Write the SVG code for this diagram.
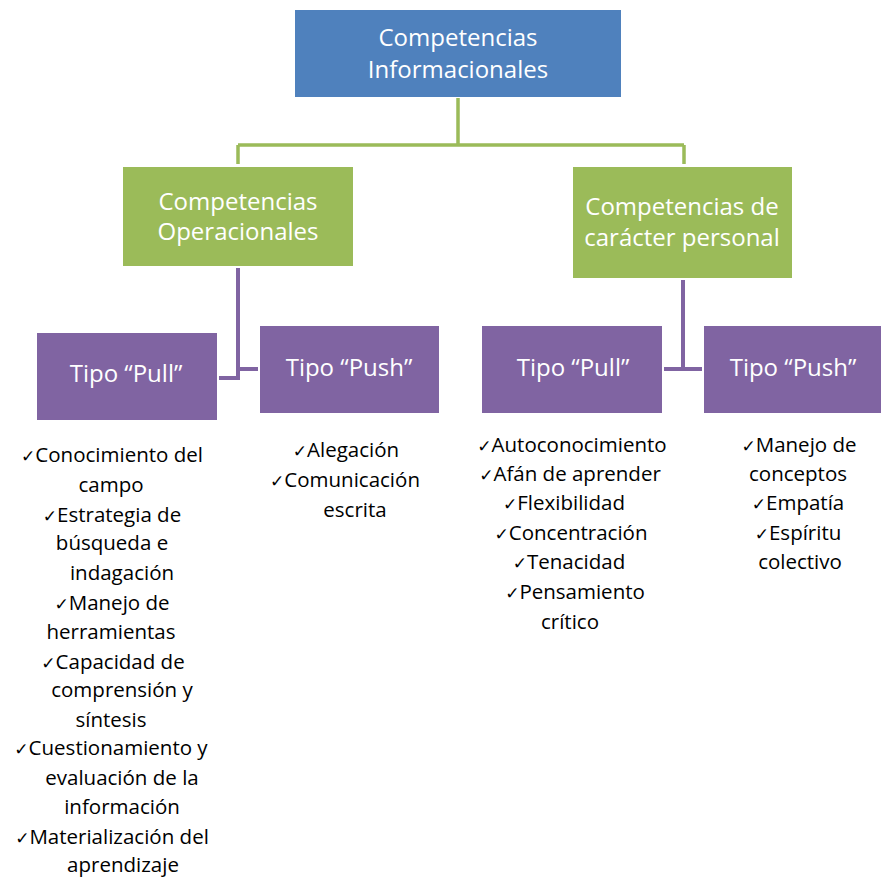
<svg xmlns="http://www.w3.org/2000/svg" width="882" height="878" viewBox="0 0 882 878">
<style>
.box-blue{fill:#4f81bd}
.box-green{fill:#9bbb59}
.box-purple{fill:#8064a2}
.bt{font-family:"Open Sans","Noto Sans",sans-serif;font-size:24px;fill:#ffffff;text-anchor:middle}
.lt{font-family:"Open Sans","Noto Sans",sans-serif;font-size:20.5px;fill:#000000;text-anchor:middle}
.ck{font-family:"DejaVu Sans",sans-serif;font-weight:bold;font-size:17px}
.gc{stroke:#9bbb59;stroke-width:3.5;fill:none}
.pc{stroke:#8064a2;stroke-width:4;fill:none}
</style>
<rect width="882" height="878" fill="#ffffff"/>
<g id="connectors">
<path class="gc" d="M458,98 V145 M238,145 H684 M238,145 V164 M684,145 V164"/>
<path class="pc" d="M238,268 V378 H219 M238,369 H258"/>
<path class="pc" d="M683,280 V369 M664,369 H702"/>
</g>
<g id="n-root">
<rect class="box-blue" x="295" y="10" width="326" height="87"/>
<text class="bt" x="458" y="46">Competencias</text>
<text class="bt" x="458" y="78">Informacionales</text>
</g>
<g id="n-oper">
<rect class="box-green" x="123" y="167" width="230" height="99"/>
<text class="bt" x="238" y="210">Competencias</text>
<text class="bt" x="238" y="240">Operacionales</text>
</g>
<g id="n-pers">
<rect class="box-green" x="573" y="167" width="219" height="111"/>
<text class="bt" x="682" y="215">Competencias de</text>
<text class="bt" x="682" y="246">carácter personal</text>
</g>
<g id="n-pull1">
<rect class="box-purple" x="37" y="333" width="180" height="87"/>
<text class="bt" x="126" y="382">Tipo “Pull”</text>
</g>
<g id="n-push1">
<rect class="box-purple" x="260" y="326" width="179" height="87"/>
<text class="bt" x="349" y="376">Tipo “Push”</text>
</g>
<g id="n-pull2">
<rect class="box-purple" x="482" y="326" width="180" height="87"/>
<text class="bt" x="573" y="376">Tipo “Pull”</text>
</g>
<g id="n-push2">
<rect class="box-purple" x="704" y="326" width="177" height="87"/>
<text class="bt" x="793" y="376">Tipo “Push”</text>
</g>
<g id="list-pull1">
<text class="lt" x="112" y="462"><tspan class="ck">✓</tspan>Conocimiento del</text>
<text class="lt" x="111" y="492">campo</text>
<text class="lt" x="112" y="522"><tspan class="ck">✓</tspan>Estrategia de</text>
<text class="lt" x="112" y="550">búsqueda e</text>
<text class="lt" x="122" y="580">indagación</text>
<text class="lt" x="112" y="610"><tspan class="ck">✓</tspan>Manejo de</text>
<text class="lt" x="111" y="639">herramientas</text>
<text class="lt" x="113" y="669"><tspan class="ck">✓</tspan>Capacidad de</text>
<text class="lt" x="122" y="697">comprensión y</text>
<text class="lt" x="111" y="727">síntesis</text>
<text class="lt" x="111" y="755"><tspan class="ck">✓</tspan>Cuestionamiento y</text>
<text class="lt" x="122" y="785">evaluación de la</text>
<text class="lt" x="122" y="814">información</text>
<text class="lt" x="112" y="844"><tspan class="ck">✓</tspan>Materialización del</text>
<text class="lt" x="123" y="872">aprendizaje</text>
</g>
<g id="list-push1">
<text class="lt" x="346" y="457"><tspan class="ck">✓</tspan>Alegación</text>
<text class="lt" x="345" y="487"><tspan class="ck">✓</tspan>Comunicación</text>
<text class="lt" x="355" y="517">escrita</text>
</g>
<g id="list-pull2">
<text class="lt" x="572" y="452"><tspan class="ck">✓</tspan>Autoconocimiento</text>
<text class="lt" x="570" y="481"><tspan class="ck">✓</tspan>Afán de aprender</text>
<text class="lt" x="564" y="510"><tspan class="ck">✓</tspan>Flexibilidad</text>
<text class="lt" x="571" y="540"><tspan class="ck">✓</tspan>Concentración</text>
<text class="lt" x="569" y="569"><tspan class="ck">✓</tspan>Tenacidad</text>
<text class="lt" x="575" y="599"><tspan class="ck">✓</tspan>Pensamiento</text>
<text class="lt" x="570" y="629">crítico</text>
</g>
<g id="list-push2">
<text class="lt" x="799" y="452"><tspan class="ck">✓</tspan>Manejo de</text>
<text class="lt" x="798" y="481">conceptos</text>
<text class="lt" x="798" y="510"><tspan class="ck">✓</tspan>Empatía</text>
<text class="lt" x="798" y="540"><tspan class="ck">✓</tspan>Espíritu</text>
<text class="lt" x="800" y="569">colectivo</text>
</g>
</svg>
